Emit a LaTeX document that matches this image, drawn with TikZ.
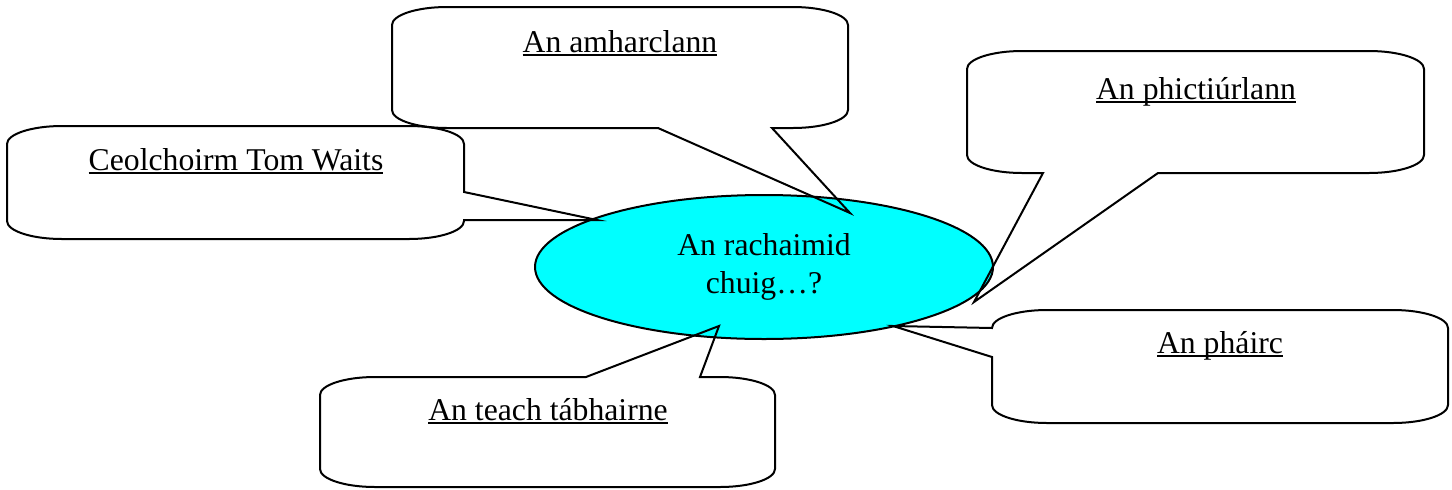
\documentclass[tikz,border=0pt]{standalone}
\usepackage{fontspec}
\setmainfont{Liberation Serif}
\usetikzlibrary{shapes.geometric}
\definecolor{hubcyan}{RGB}{0,255,255}
% underline at a fixed depth below the baseline
\newcommand\ulx[1]{\setbox0=\hbox{#1}\rlap{\rule[-0.13em]{\wd0}{0.06em}}\box0}
\begin{document}
\begin{tikzpicture}[x=0.5pt, y=-0.5pt,
  callout/.style={draw=black, line width=1pt, line join=miter},
  corner/.style={x radius=55, y radius=18},
  lbl/.style={font=\fontsize{15.85}{19}\selectfont, anchor=base, inner sep=0pt},
  hubstyle/.style={ellipse, draw=black, line width=1pt, fill=hubcyan,
    minimum width=229pt, minimum height=72pt, inner sep=0pt, align=center,
    font=\fontsize{15.85}{19}\selectfont}]
\useasboundingbox (0,0) rectangle (1452,489);

% central question
\node[hubstyle] (hub) at (764,267) {An rachaimid\\chuig\ldots?};

% speech bubble: theatre (tail from the bottom edge)
\draw[callout] (392,25) arc[start angle=180, end angle=270, corner]
  -- (793,7) arc[start angle=270, end angle=360, corner]
  -- (848,110) arc[start angle=0, end angle=90, corner]
  -- (772,128) -- (850,213) -- (658,128)
  -- (447,128) arc[start angle=90, end angle=180, corner] -- cycle;
\node[lbl] (amharclann) at (620,52) {\ulx{An amharclann}};

% speech bubble: concert (tail from the right edge)
\draw[callout] (7,144) arc[start angle=180, end angle=270, corner]
  -- (409,126) arc[start angle=270, end angle=360, corner]
  -- (464,192) -- (597,220) -- (464,220)
  -- (464,221) arc[start angle=0, end angle=90, corner]
  -- (62,239) arc[start angle=90, end angle=180, corner] -- cycle;
\node[lbl] (ceolchoirm) at (236,170) {\ulx{Ceolchoirm Tom Waits}};

% speech bubble: cinema (tail from the bottom edge)
\draw[callout] (967,69) arc[start angle=180, end angle=270, corner]
  -- (1369,51) arc[start angle=270, end angle=360, corner]
  -- (1424,155) arc[start angle=0, end angle=90, corner]
  -- (1158,173) -- (974,302) -- (1043,173)
  -- (1022,173) arc[start angle=90, end angle=180, corner] -- cycle;
\node[lbl] (phictiurlann) at (1196,99) {\ulx{An phictiúrlann}};

% speech bubble: park (tail from the left edge)
\draw[callout] (992,328) arc[start angle=180, end angle=270, corner]
  -- (1393,310) arc[start angle=270, end angle=360, corner]
  -- (1448,405) arc[start angle=0, end angle=90, corner]
  -- (1047,423) arc[start angle=90, end angle=180, corner]
  -- (992,357) -- (893,326) -- cycle;
\node[lbl] (pairc) at (1220,353) {\ulx{An pháirc}};

% speech bubble: pub (tail from the top edge)
\draw[callout] (320,395) arc[start angle=180, end angle=270, corner]
  -- (586,377) -- (719,326) -- (700,377)
  -- (720,377) arc[start angle=270, end angle=360, corner]
  -- (775,469) arc[start angle=0, end angle=90, corner]
  -- (375,487) arc[start angle=90, end angle=180, corner] -- cycle;
\node[lbl] (teach) at (548,420) {\ulx{An teach tábhairne}};
\end{tikzpicture}
\end{document}
